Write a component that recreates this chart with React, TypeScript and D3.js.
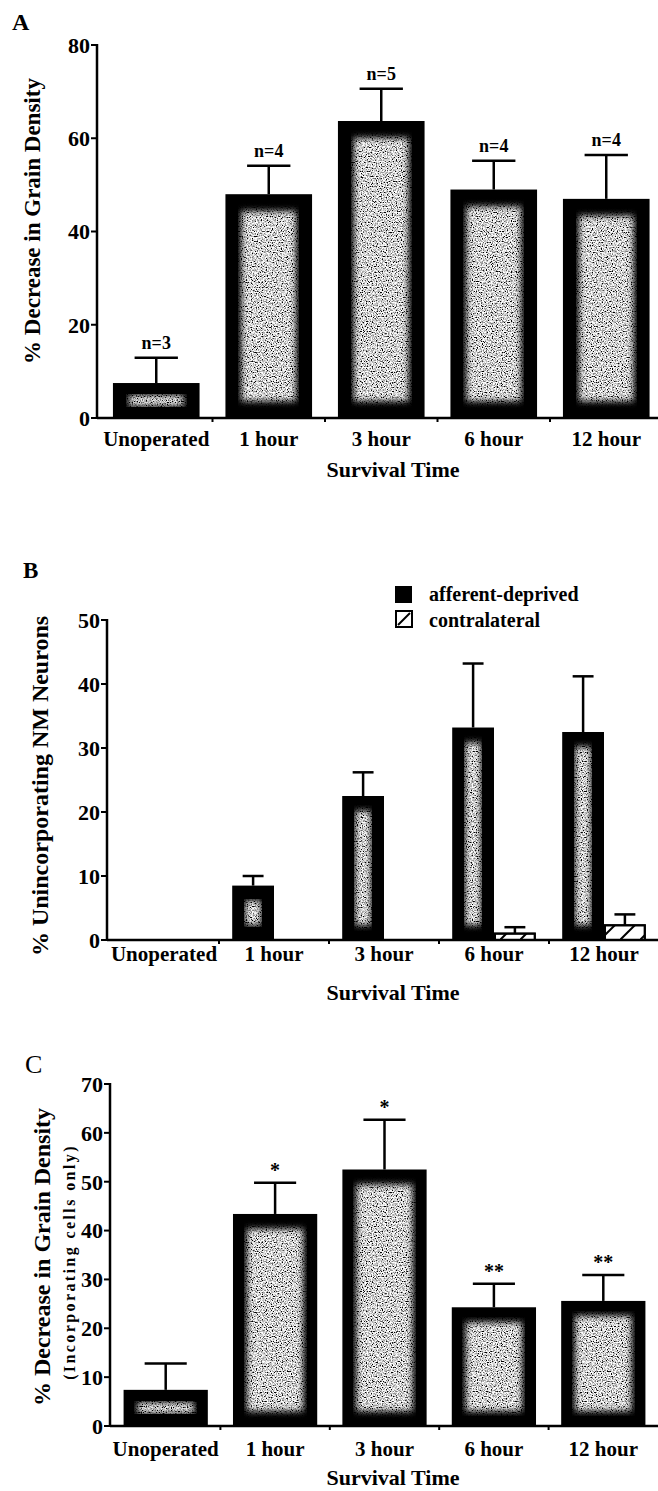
import React from "react";
import * as d3 from "d3";

const categories = ["Unoperated", "1 hour", "3 hour", "6 hour", "12 hour"];

// A: % decrease in grain density
const grainMean = [7.5, 48.0, 63.7, 49.0, 47.0];
const grainSem = [5.4, 6.1, 6.9, 6.2, 9.4];
const grainN = ["n=3", "n=4", "n=5", "n=4", "n=4"];
const grainTicks = [0, 20, 40, 60, 80];

// B: % unincorporating NM neurons
const seriesNames = ["afferent-deprived", "contralateral"];
const deprivedMean = [0, 8.5, 22.5, 33.2, 32.5];
const deprivedSem = [0, 1.5, 3.7, 10.0, 8.7];
const contraMean = [0, 0, 0, 1.0, 2.3];
const contraSem = [0, 0, 0, 1.0, 1.7];
const unincTicks = [0, 10, 20, 30, 40, 50];

// C: % decrease in grain density, incorporating cells only
const incMean = [7.4, 43.4, 52.5, 24.3, 25.6];
const incSem = [5.4, 6.4, 10.2, 4.8, 5.3];
const incMarks = ["", "*", "*", "**", "**"];
const incTicks = [0, 10, 20, 30, 40, 50, 60, 70];

const FONT = "'Liberation Serif', 'Times New Roman', serif";
const W = 658;
const H = 1491;

function YAxis({ x, y, ticks }) {
  const top = ticks[ticks.length - 1];
  return (
    <g>
      <line x1={x} x2={x} y1={y(0) + 1} y2={y(top) - 1} stroke="#000" strokeWidth={2.5} />
      {ticks.map((t) => (
        <g key={t}>
          <line x1={x - 6} x2={x} y1={y(t)} y2={y(t)} stroke="#000" strokeWidth={2} />
          <text x={x - 7} y={y(t)} dy="0.36em" textAnchor="end" fontSize={22}>
            {t}
          </text>
        </g>
      ))}
    </g>
  );
}

function XAxis({ x0, y0, xScale, labelY, titleY }) {
  const step = xScale.step();
  const start = xScale(categories[0]) - (step - xScale.bandwidth()) / 2;
  return (
    <g>
      <line x1={x0} x2={W} y1={y0} y2={y0} stroke="#000" strokeWidth={2.5} />
      {categories.slice(1).map((c, i) => (
        <line key={c} x1={start + step * (i + 1)} x2={start + step * (i + 1)} y1={y0} y2={y0 + 4} stroke="#000" strokeWidth={2} />
      ))}
      {categories.map((c) => (
        <text key={c} x={xScale(c) + xScale.bandwidth() / 2} y={labelY} textAnchor="middle" fontSize={21}>
          {c}
        </text>
      ))}
      <text x={393} y={titleY} textAnchor="middle" fontSize={22}>
        Survival Time
      </text>
    </g>
  );
}

function GrainBar({ x, y, w, h, insetX, insetY }) {
  if (h <= 0) return null;
  const ih = Math.max(h - 2 * insetY, h * 0.25);
  const iy = y + (h - ih) / 2;
  return (
    <g>
      <rect x={x} y={y} width={w} height={h} fill="#000" />
      <rect x={x + insetX - 1} y={iy - 1} width={w - 2 * insetX + 2} height={ih + 2} fill="#fff" filter="url(#grain)" />
    </g>
  );
}

function ErrorBar({ cx, yMean, yTop, cap }) {
  if (yMean - yTop <= 0.5) return null;
  return (
    <g stroke="#000" strokeWidth={2.5}>
      <line x1={cx} x2={cx} y1={yMean} y2={yTop} />
      <line x1={cx - cap / 2} x2={cx + cap / 2} y1={yTop} y2={yTop} />
    </g>
  );
}

export default function App() {
  // panel A
  const yA = d3.scaleLinear().domain([0, 80]).range([418, 45]);
  const xA = d3.scaleBand().domain(categories).range([100, 662.5]).paddingInner(0.23).paddingOuter(0.115);

  // panel B
  const yB = d3.scaleLinear().domain([0, 50]).range([940, 620]);
  const xB = d3.scaleBand().domain(categories).range([109, 659]).paddingInner(0.24).paddingOuter(0.12);
  const xSub = d3.scaleBand().domain(seriesNames).range([0, xB.bandwidth()]);

  // panel C
  const yC = d3.scaleLinear().domain([0, 70]).range([1426, 1084]);
  const xC = d3.scaleBand().domain(categories).range([111, 658]).paddingInner(0.23).paddingOuter(0.115);

  return (
    <svg
      width={W}
      height={H}
      style={{ position: "absolute", left: 0, top: 0, background: "#fff" }}
      fontFamily={FONT}
      fontWeight="bold"
    >
      <defs>
        <filter id="grain" x="-5%" y="-5%" width="110%" height="110%">
          <feTurbulence type="fractalNoise" baseFrequency="0.8" numOctaves="1" seed="7" result="noise" />
          <feColorMatrix
            in="noise"
            type="matrix"
            values="3.6 0 0 0 -1.15  3.6 0 0 0 -1.15  3.6 0 0 0 -1.15  0 0 0 0 1"
            result="grey"
          />
          <feGaussianBlur in="SourceAlpha" stdDeviation="3.2" result="soft" />
          <feComposite in="grey" in2="soft" operator="in" />
        </filter>
        <pattern id="hatch" patternUnits="userSpaceOnUse" width={20} height={20}>
          <line x1={0} y1={20} x2={20} y2={0} stroke="#000" strokeWidth={2} />
        </pattern>
      </defs>

      {/* ---------- A ---------- */}
      <text x={12} y={30} fontSize={24}>A</text>
      <text transform={`translate(40,221) rotate(-90)`} textAnchor="middle" fontSize={23}>
        % Decrease in Grain Density
      </text>
      <YAxis x={97} y={yA} ticks={grainTicks} />
      {categories.map((c, i) => {
        const x = xA(c);
        const w = xA.bandwidth();
        const top = yA(grainMean[i]);
        const errTop = yA(grainMean[i] + grainSem[i]);
        return (
          <g key={c}>
            <GrainBar x={x} y={top} w={w} h={yA(0) - top} insetX={17} insetY={18} />
            <ErrorBar cx={x + w / 2} yMean={top} yTop={errTop} cap={w / 2} />
            <text x={x + w / 2} y={errTop - 9} textAnchor="middle" fontSize={18}>
              {grainN[i]}
            </text>
          </g>
        );
      })}
      <XAxis x0={97} y0={418} xScale={xA} labelY={446} titleY={477} />

      {/* ---------- B ---------- */}
      <text x={23} y={578} fontSize={23}>B</text>
      <text transform={`translate(48,786) rotate(-90)`} textAnchor="middle" fontSize={24}>
        % Unincorporating NM Neurons
      </text>
      <YAxis x={107} y={yB} ticks={unincTicks} />
      {categories.map((c, i) => {
        const x = xB(c);
        const w = xSub.bandwidth();
        const xd = x + xSub(seriesNames[0]);
        const xc = x + xSub(seriesNames[1]);
        const dTop = yB(deprivedMean[i]);
        const cTop = yB(contraMean[i]);
        return (
          <g key={c}>
            <GrainBar x={xd} y={dTop} w={w} h={yB(0) - dTop} insetX={14} insetY={16} />
            <ErrorBar cx={xd + w / 2} yMean={dTop} yTop={yB(deprivedMean[i] + deprivedSem[i])} cap={w / 2} />
            {contraMean[i] > 0 && (
              <g>
                <ErrorBar cx={xc + w / 2} yMean={cTop} yTop={yB(contraMean[i] + contraSem[i])} cap={w / 2} />
                <rect x={xc + 1} y={cTop} width={w - 2} height={yB(0) - cTop} fill="#fff" stroke="#000" strokeWidth={2} />
                <rect x={xc + 1} y={cTop} width={w - 2} height={yB(0) - cTop} fill="url(#hatch)" stroke="#000" strokeWidth={2} />
              </g>
            )}
          </g>
        );
      })}
      <XAxis x0={107} y0={940} xScale={xB} labelY={961} titleY={1000} />
      {/* legend */}
      <rect x={395} y={586} width={17} height={17} fill="#000" />
      <text x={429} y={601} fontSize={20}>{seriesNames[0]}</text>
      <rect x={396} y={611} width={16} height={16} fill="#fff" stroke="#000" strokeWidth={2} />
      <line x1={398} y1={625} x2={410} y2={613} stroke="#000" strokeWidth={2} />
      <text x={429} y={627} fontSize={20}>{seriesNames[1]}</text>

      {/* ---------- C ---------- */}
      <text x={25} y={1073} fontSize={26} fontWeight="normal">C</text>
      <text transform={`translate(50,1257) rotate(-90)`} textAnchor="middle" fontSize={24}>
        % Decrease in Grain Density
      </text>
      <text transform={`translate(75,1262) rotate(-90)`} textAnchor="middle" fontSize={16} letterSpacing={2.4}>
        (Incorporating cells only)
      </text>
      <YAxis x={110} y={yC} ticks={incTicks} />
      {categories.map((c, i) => {
        const x = xC(c);
        const w = xC.bandwidth();
        const top = yC(incMean[i]);
        const errTop = yC(incMean[i] + incSem[i]);
        return (
          <g key={c}>
            <GrainBar x={x} y={top} w={w} h={yC(0) - top} insetX={15} insetY={16} />
            <ErrorBar cx={x + w / 2} yMean={top} yTop={errTop} cap={w / 2} />
            <text x={x + w / 2} y={errTop - 6} textAnchor="middle" fontSize={20}>
              {incMarks[i]}
            </text>
          </g>
        );
      })}
      <XAxis x0={110} y0={1426} xScale={xC} labelY={1456} titleY={1485} />
    </svg>
  );
}
